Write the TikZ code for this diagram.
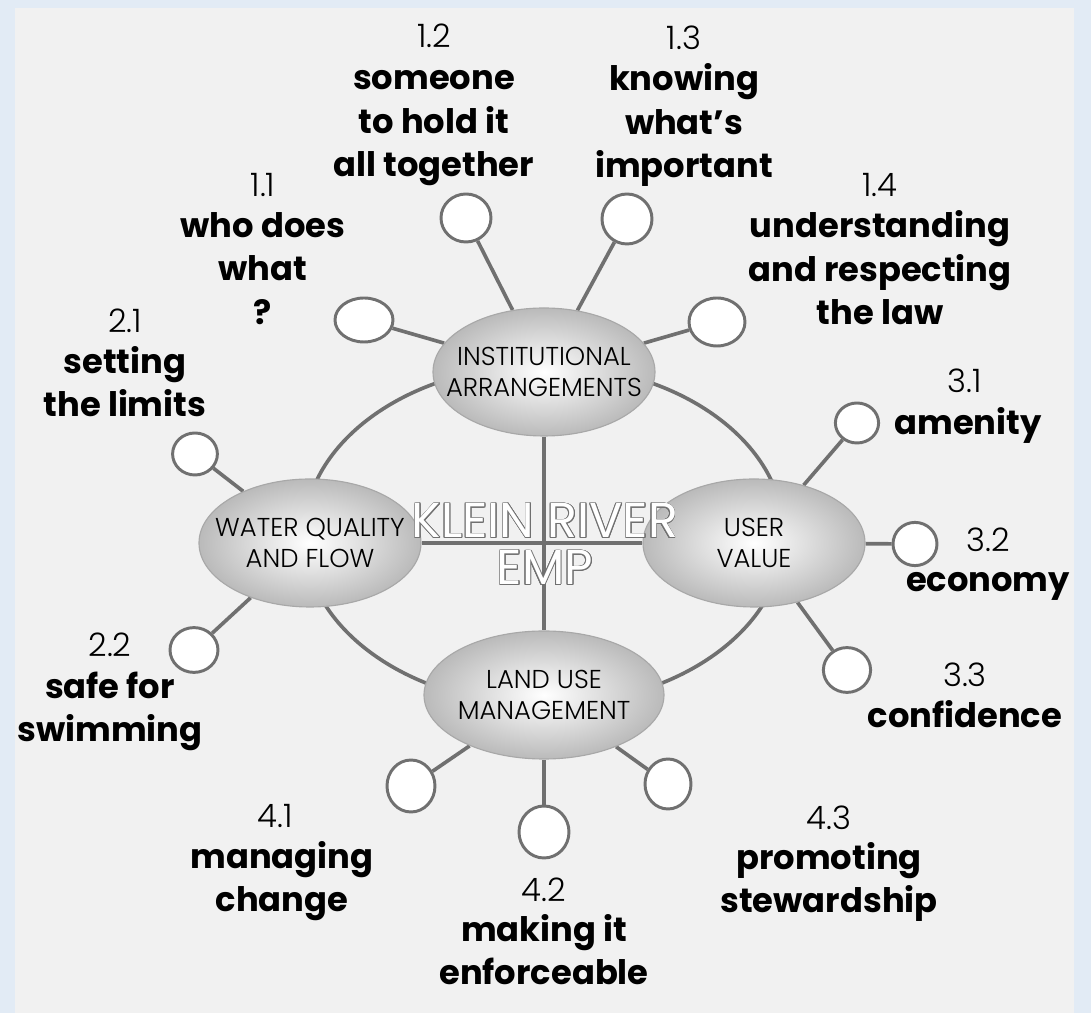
\documentclass[tikz,border=0pt]{standalone}
\usepackage{fontspec}
\setmainfont{Poppins}
\newfontfamily\lightfont{Poppins Light}
\usepackage[copies]{contour}
\usetikzlibrary{shapes.geometric}
\definecolor{framebg}{RGB}{226,235,245}
\definecolor{panelgray}{RGB}{241,241,241}
\definecolor{linkgray}{RGB}{112,112,112}
\definecolor{shadegray}{RGB}{186,186,186}
\definecolor{rimgray}{RGB}{168,168,168}
\pgfdeclarelayer{background}
\pgfdeclarelayer{links}
\pgfsetlayers{background,links,main}
\contourlength{0.6pt}

\begin{document}
\begin{tikzpicture}[
  theme/.style={ellipse, draw=rimgray, line width=0.8pt, inner color=white, outer color=shadegray, minimum width=5.55cm, minimum height=3.2cm, inner xsep=-10mm, inner ysep=0pt, align=center, font=\lightfont\fontsize{18.4}{22.5}\selectfont},
  leaf/.style={ellipse, draw=linkgray, line width=2.1pt, fill=white, inner sep=0pt},
  link/.style={draw=linkgray, line width=2.6pt},
  num/.style={anchor=base, font=\lightfont\fontsize{23}{26}\selectfont},
  ttl/.style={anchor=base, align=center, font=\bfseries\fontsize{24}{31}\selectfont},
  hub/.style={anchor=base, align=center, text=white, font=\fontsize{35}{33.5}\selectfont}
]
  \useasboundingbox (-13.6,13.625) rectangle (13.675,-11.7);
  \begin{pgfonlayer}{background}
    \fill[framebg] (-13.6,13.625) rectangle (13.675,-11.7);
    \fill[panelgray] (-13.225,13.425) rectangle (13.25,-11.7);
  \end{pgfonlayer}

  % Themes
  \node[theme] (inst) at (0,4.325) {INSTITUTIONAL\\ARRANGEMENTS};
  \node[theme] (water) at (-5.85,0.05) {WATER QUALITY\\AND FLOW};
  \node[theme] (user) at (5.25,0.05) {USER\\VALUE};
  \node[theme, minimum width=6cm] (land) at (0,-3.75) {LAND USE\\MANAGEMENT};

  % base of the last line
  \node[hub] (hub) at (0.025,-1.0) {\contour{linkgray}{KLEIN RIVER}\\\contour{linkgray}{EMP}};

  % Leaves
  \foreach \n/\x/\y/\w/\h in {11/-4.5/5.625/1.45/1.1, 12/-1.95/8.175/1.25/1.2, 13/2.075/8.15/1.25/1.25, 14/4.325/5.575/1.4/1.2,
      21/-8.725/2.275/1.12/1.05, 22/-8.75/-2.625/1.2/1.12,
      31/7.825/3.05/1.08/1.0, 32/9.275/0.025/1.1/1.08, 33/7.575/-3.125/1.18/1.12,
      41/-3.325/-6.025/1.2/1.3, 42/0/-7.175/1.25/1.3, 43/3.1/-5.975/1.15/1.25}
    \node[leaf, minimum width=\w cm, minimum height=\h cm] (c\n) at (\x,\y) {};

  % Connectors
  \begin{pgfonlayer}{links}
    \draw[link] (0,0.25) ellipse [x radius=6, y radius=4.25];
    \draw[link] (inst) -- (land);
    \draw[link] (water) -- (user);
    \foreach \n/\t in {11/inst, 12/inst, 13/inst, 14/inst, 21/water, 22/water, 31/user, 32/user, 33/user, 41/land, 42/land, 43/land}
      \draw[link] (c\n) -- (\t);
  \end{pgfonlayer}

  % Labels (titles sit on the base of their last line)
  \node[num] (n11) at (-7.025,8.7) {1.1};
  \node[ttl] (t11) at (-7.025,5.52) {who does\\what\\?};
  \node[num] (n12) at (-2.75,12.425) {1.2};
  \node[ttl] (t12) at (-2.75,9.2) {someone\\to hold it\\all together};
  \node[num] (n13) at (3.5,12.375) {1.3};
  \node[ttl] (t13) at (3.5,9.175) {knowing\\what’s\\important};
  \node[num] (n14) at (8.4,8.7) {1.4};
  \node[ttl] (t14) at (8.4,5.5) {understanding\\and respecting\\the law};

  \node[num] (n21) at (-10.475,5.3) {2.1};
  \node[ttl] (t21) at (-10.475,3.2) {setting\\the limits};
  \node[num] (n22) at (-10.85,-2.8) {2.2};
  \node[ttl] (t22) at (-10.85,-4.925) {safe for\\swimming};

  \node[num] (n31) at (10.525,3.8) {3.1};
  \node[ttl] (t31) at (10.6,2.75) {amenity};
  \node[num] (n32) at (11.1,-0.175) {3.2};
  \node[ttl] (t32) at (11.1,-1.175) {economy};
  \node[num] (n33) at (10.525,-3.55) {3.3};
  \node[ttl] (t33) at (10.525,-4.575) {confidence};

  \node[num] (n41) at (-6.725,-7.075) {4.1};
  \node[ttl] (t41) at (-6.55,-9.175) {managing\\change};
  \node[num] (n42) at (0,-8.925) {4.2};
  \node[ttl] (t42) at (0,-11.0) {making it\\enforceable};
  \node[num] (n43) at (7.125,-7.125) {4.3};
  \node[ttl] (t43) at (7.125,-9.2) {promoting\\stewardship};
\end{tikzpicture}
\end{document}
